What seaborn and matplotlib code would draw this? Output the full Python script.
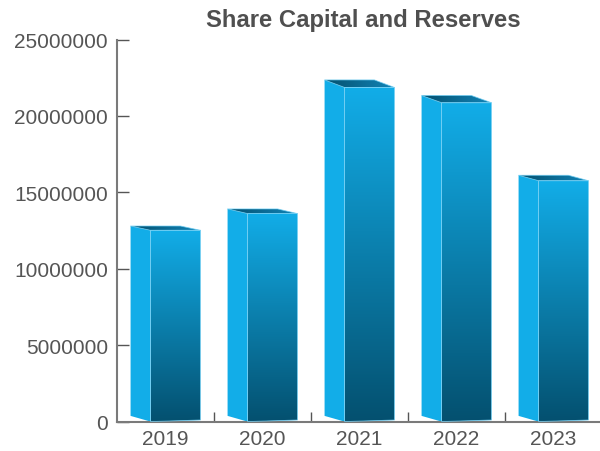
import numpy as np
import pandas as pd
import matplotlib
matplotlib.use("Agg")
import matplotlib.pyplot as plt
from matplotlib.colors import LinearSegmentedColormap
from matplotlib.patches import Polygon
import seaborn as sns

years = ["2019", "2020", "2021", "2022", "2023"]
capital = [12800000, 13920000, 22360000, 21340000, 16120000]
y_ticks = [0, 5000000, 10000000, 15000000, 20000000, 25000000]

LIGHT = "#12ADE8"
DARK = "#04506F"
EDGE = "#6CCDF3"
TEXT = "#555555"

sns.set_theme(style="white")
plt.rcParams["font.family"] = ["Liberation Sans", "DejaVu Sans"]

W, H = 600, 452
fig = plt.figure(figsize=(W / 100, H / 100), dpi=100)
ax = fig.add_axes([117 / W, (H - 422.6) / H, (600 - 117) / W, 382 / H])

frame = pd.DataFrame({"year": years, "capital": capital})
sns.barplot(data=frame, x="year", y="capital", order=years, width=0.72,
            color=LIGHT, ax=ax, zorder=1)

xlim = (-0.5, -0.5 + 483 / 97)
ylim = (0, 25000000)

# Oblique projection: the lid foreshortens with bar height
depth_x = 20 / 97
lid_ratio = 0.978
lift_bottom = 5.7 * 25000000 / 382
lift_right = 1.6 * 25000000 / 382

face_gradient = LinearSegmentedColormap.from_list("face", [LIGHT, DARK])
lid_gradient = LinearSegmentedColormap.from_list("lid", [DARK, "#1285B8"])


def shaded(points, gradient, vertical):
    """Fill a polygon with a linear colour ramp clipped to its outline."""
    xs, ys = zip(*points)
    ramp = np.linspace(0, 1, 256)
    ramp = ramp[:, None] if vertical else ramp[None, :]
    img = ax.imshow(ramp, cmap=gradient, aspect="auto", zorder=2,
                    origin="upper", interpolation="bilinear",
                    extent=(min(xs), max(xs), min(ys), max(ys)))
    clip = Polygon(points, closed=True, transform=ax.transData)
    img.set_clip_path(clip)
    ax.add_patch(Polygon(points, closed=True, fill=False, edgecolor=EDGE,
                         linewidth=0.6, alpha=0.8, zorder=3, joinstyle="round"))


for bar in list(ax.patches):
    bar.set_alpha(0)
    left, right = bar.get_x(), bar.get_x() + bar.get_width()
    back_top = bar.get_height()
    front_top = back_top * lid_ratio
    front_left = left + depth_x

    side = [(left, lift_bottom), (front_left, 0), (front_left, front_top), (left, back_top)]
    ax.add_patch(Polygon(side, closed=True, facecolor=LIGHT, edgecolor="none", zorder=2))

    lid = [(left, back_top), (right - depth_x, back_top), (right, front_top), (front_left, front_top)]
    shaded(lid, lid_gradient, vertical=False)

    front = [(front_left, 0), (right, lift_right), (right, front_top), (front_left, front_top)]
    shaded(front, face_gradient, vertical=True)

ax.set_xlim(*xlim)
ax.set_ylim(*ylim)
ax.set_xlabel("")
ax.set_ylabel("")
ax.grid(False)

for name in ("top", "right"):
    ax.spines[name].set_visible(False)
for name in ("left", "bottom"):
    ax.spines[name].set_color("#7A7A7A")
    ax.spines[name].set_linewidth(1.5)

ax.set_yticks(y_ticks)
ax.set_yticklabels([str(v) for v in y_ticks])
ax.tick_params(axis="y", direction="in", length=8.6, width=1.0, color="#555555",
               labelsize=15, labelcolor=TEXT, pad=6.5, left=True)
ax.set_xticks(range(len(years)))
ax.set_xticklabels(years)
ax.tick_params(axis="x", which="major", length=0, labelsize=15, labelcolor=TEXT, pad=5.3)
ax.set_xticks(np.arange(len(years) - 1) + 0.5, minor=True)
ax.tick_params(axis="x", which="minor", direction="in", length=7.2, width=1.0,
               color="#555555", bottom=True)

fig.text(363 / W, 1 - 21 / H, "Share Capital and Reserves", ha="center", va="center",
         fontsize=17.2, fontweight="bold", color="#4F4F4F")

fig.savefig("out.png", dpi=100)
